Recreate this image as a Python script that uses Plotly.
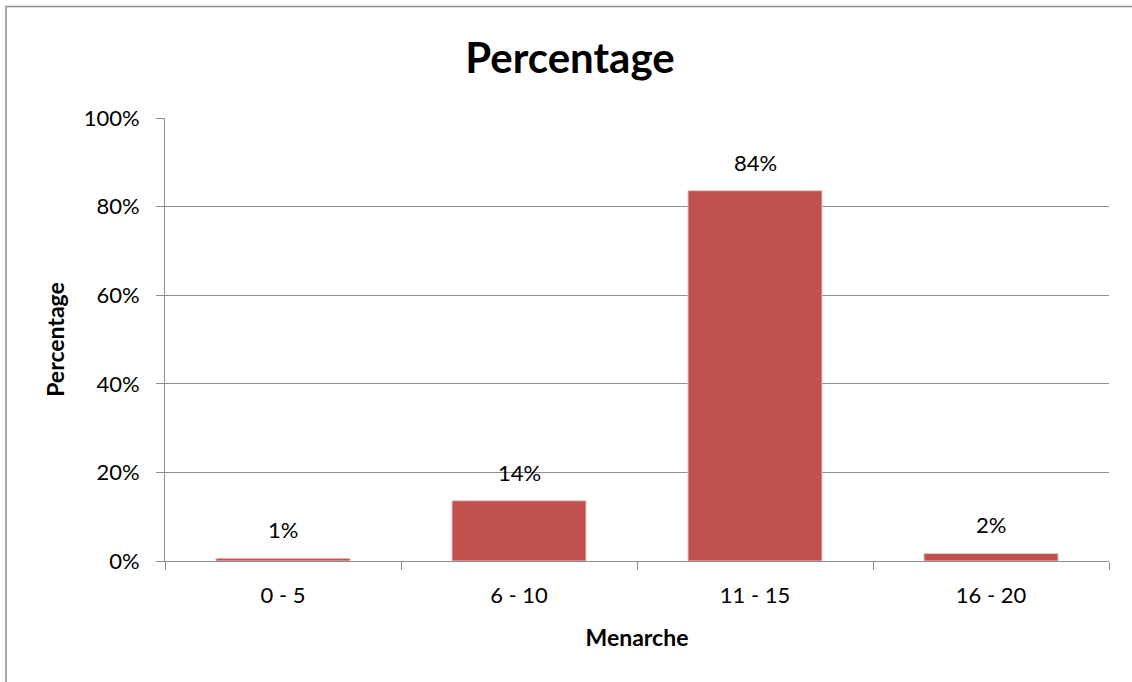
import plotly.graph_objects as go

# Menarche age groups and share of respondents in each
categories = ["0 - 5", "6 - 10", "11 - 15", "16 - 20"]
percentages = [0.006, 0.136, 0.836, 0.017]

y_ticks = [0, 0.2, 0.4, 0.6, 0.8, 1.0]

BAR_COLOR = "#C0504D"
GRID_COLOR = "#8E8E8E"
FONT = "Lato"

fig = go.Figure(
    go.Bar(
        x=categories,
        y=percentages,
        marker=dict(color=BAR_COLOR, line=dict(color="#E6C9C8", width=1)),
        hoverinfo="x+y",
    )
)

# value labels above each bar
for cat, val in zip(categories, percentages):
    fig.add_annotation(
        x=cat, y=val, text=f"{val:.0%}", showarrow=False,
        yanchor="bottom", yshift=13,
        font=dict(family=FONT, size=22, color="#000000"),
    )

# outer chart-area frame (right and bottom edges fall outside the page)
fig.add_shape(
    type="rect", xref="paper", yref="paper",
    x0=-0.1684, x1=1.2, y0=-0.6, y1=1.2517,
    line=dict(color="#8C8C8C", width=1.5), layer="below",
)

fig.update_layout(
    width=1132, height=682,
    margin=dict(l=165, r=23, t=118, b=121),
    paper_bgcolor="white", plot_bgcolor="white",
    bargap=0.432,
    showlegend=False,
    font=dict(family=FONT, size=22, color="#000000"),
    title=dict(
        text="<b>Percentage</b>", x=0.5035, xanchor="center",
        y=1 - 58 / 682, yanchor="middle", yref="container",
        font=dict(family=FONT, size=42, color="#000000"),
    ),
    xaxis=dict(
        title=dict(text="<b>Menarche</b>", font=dict(family=FONT, size=23), standoff=22),
        showline=True, linecolor=GRID_COLOR, linewidth=1,
        ticks="outside", tickson="boundaries", ticklen=8, tickcolor=GRID_COLOR,
        ticklabelstandoff=15,
        tickfont=dict(family=FONT, size=22),
        showgrid=False,
    ),
    yaxis=dict(
        title=dict(text="<b>Percentage</b>", font=dict(family=FONT, size=23), standoff=12),
        range=[0, 1], tickvals=y_ticks, tickformat=".0%",
        showline=True, linecolor=GRID_COLOR, linewidth=1,
        ticks="outside", ticklen=8, tickcolor=GRID_COLOR,
        ticklabelstandoff=12,
        tickfont=dict(family=FONT, size=22),
        showgrid=True, gridcolor=GRID_COLOR, gridwidth=1,
        zeroline=False,
    ),
)

fig.write_html("out.html")
